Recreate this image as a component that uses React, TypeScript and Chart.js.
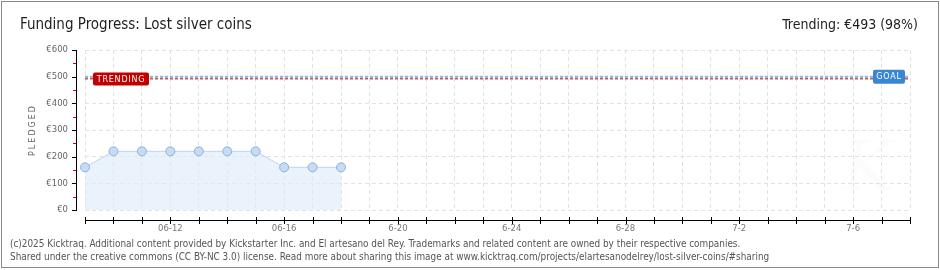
import React, { useEffect, useRef } from "react";
import { Chart, registerables } from "chart.js";

Chart.register(...registerables);

const categories = [
  "06-09", "06-10", "06-11", "06-12", "06-13", "06-14", "06-15", "06-16", "06-17", "06-18", "06-19",
  "6-20", "6-21", "6-22", "6-23", "6-24", "6-25", "6-26", "6-27", "6-28", "6-29", "6-30",
  "7-1", "7-2", "7-3", "7-4", "7-5", "7-6", "7-7", "7-8",
];
const labeledTicks = ["06-12", "06-16", "6-20", "6-24", "6-28", "7-2", "7-6"];
const pledged = [160, 220, 220, 220, 220, 220, 220, 160, 160, 160];
const goalValue = 500;
const trendingValue = 493;
const yTickValues = [0, 100, 200, 300, 400, 500, 600];

const titleText = "Funding Progress: Lost silver coins";
const trendText = "Trending: €493 (98%)";
const footerLines = [
  "(c)2025 Kicktraq. Additional content provided by Kickstarter Inc. and El artesano del Rey. Trademarks and related content are owned by their respective companies.",
  "Shared under the creative commons (CC BY-NC 3.0) license. Read more about sharing this image at www.kicktraq.com/projects/elartesanodelrey/lost-silver-coins/#sharing",
];

const decorPlugin = {
  id: "decor",
  beforeDraw(chart: any) {
    const ctx = chart.ctx;
    ctx.save();
    ctx.fillStyle = "#ffffff";
    ctx.fillRect(0, 0, chart.width, chart.height);
    ctx.strokeStyle = "#8a8a8a";
    ctx.lineWidth = 1;
    ctx.strokeRect(1.5, 1.5, chart.width - 3, chart.height - 4);
    // faint watermark
    ctx.fillStyle = "rgba(0,0,0,0.012)";
    ctx.font = "italic 70px 'DejaVu Serif'";
    ctx.textAlign = "center";
    ctx.textBaseline = "middle";
    ctx.fillText("K", 868, 172);
    ctx.restore();
  },
  afterDraw(chart: any) {
    const ctx = chart.ctx;
    const x = chart.scales.x;
    const y = chart.scales.y;
    const area = chart.chartArea;
    ctx.save();
    // title
    ctx.fillStyle = "#1e1e1e";
    ctx.font = "15px 'DejaVu Sans Condensed', 'DejaVu Sans'";
    ctx.textBaseline = "alphabetic";
    ctx.textAlign = "left";
    ctx.fillText(titleText, 20, 29);
    ctx.textAlign = "right";
    ctx.font = "14px 'DejaVu Sans Condensed', 'DejaVu Sans'";
    ctx.fillText(trendText, 918, 29);
    // footer
    ctx.textAlign = "left";
    ctx.fillStyle = "#555555";
    ctx.font = "9.9px 'DejaVu Sans Condensed', 'DejaVu Sans'";
    ctx.fillText(footerLines[0], 10, 247);
    ctx.fillText(footerLines[1], 10, 260);
    // y axis line
    const axX = 76.5;
    ctx.strokeStyle = "#000000";
    ctx.lineWidth = 1;
    ctx.beginPath();
    ctx.moveTo(axX, area.top);
    ctx.lineTo(axX, area.bottom + 1);
    ctx.stroke();
    yTickValues.forEach((v) => {
      const py = Math.round(y.getPixelForValue(v)) + 0.5;
      ctx.strokeStyle = "#000000";
      ctx.beginPath();
      ctx.moveTo(72, py);
      ctx.lineTo(77, py);
      ctx.stroke();
      if (v < 600) {
        const pm = Math.round(y.getPixelForValue(v + 50)) + 0.5;
        ctx.strokeStyle = "#e00000";
        ctx.beginPath();
        ctx.moveTo(73, pm);
        ctx.lineTo(76, pm);
        ctx.stroke();
      }
    });
    // y title
    ctx.save();
    ctx.translate(33, (area.top + area.bottom) / 2);
    ctx.rotate(-Math.PI / 2);
    ctx.fillStyle = "#666666";
    ctx.font = "8px 'DejaVu Sans'";
    ctx.textAlign = "center";
    ctx.textBaseline = "middle";
    (ctx as any).letterSpacing = "2px";
    ctx.fillText("PLEDGED", 0, 0);
    ctx.restore();
    // x axis line
    const axY = 220.5;
    ctx.strokeStyle = "#000000";
    ctx.beginPath();
    ctx.moveTo(area.left, axY);
    ctx.lineTo(area.right + 1, axY);
    ctx.stroke();
    categories.forEach((_, i) => {
      const px = Math.round(x.getPixelForValue(i)) + 0.5;
      ctx.beginPath();
      ctx.moveTo(px, 217);
      ctx.lineTo(px, 224);
      ctx.stroke();
    });
    ctx.restore();
  },
  afterDatasetsDraw(chart: any) {
    const ctx = chart.ctx;
    const y = chart.scales.y;
    const area = chart.chartArea;
    ctx.save();
    const box = (bx: number, cy: number, w: number, h: number, color: string, text: string) => {
      ctx.fillStyle = color;
      ctx.beginPath();
      (ctx as any).roundRect(bx, cy - h / 2, w, h, 2);
      ctx.fill();
      ctx.fillStyle = "#ffffff";
      ctx.font = "8px 'DejaVu Sans'";
      ctx.textAlign = "center";
      ctx.textBaseline = "middle";
      (ctx as any).letterSpacing = "0.8px";
      ctx.fillText(text, bx + w / 2, cy + 0.5);
    };
    box(area.left + 8, y.getPixelForValue(trendingValue) + 0.5, 56, 13, "#c20000", "TRENDING");
    box(area.right - 37, y.getPixelForValue(goalValue), 32, 14, "#3a86d4", "GOAL");
    ctx.restore();
  },
};

export default function App() {
  const ref = useRef<HTMLCanvasElement | null>(null);
  useEffect(() => {
    document.body.style.margin = "0";
    const canvas = ref.current!;
    const chart = new Chart(canvas, {
      type: "line",
      data: {
        labels: categories,
        datasets: [
          {
            label: "Goal",
            data: categories.map(() => goalValue),
            borderColor: "#94b8e0",
            borderWidth: 2,
            borderDash: [3, 2],
            pointRadius: 0,
            fill: false,
          },
          {
            label: "Trending",
            data: categories.map(() => trendingValue),
            borderColor: "#c85a5a",
            borderWidth: 2,
            borderDash: [3, 2],
            pointRadius: 0,
            fill: false,
          },
          {
            label: "Pledged",
            data: pledged,
            borderColor: "#bcd5f0",
            borderWidth: 1,
            backgroundColor: "rgba(222,235,250,0.65)",
            fill: "origin",
            pointRadius: 4.5,
            pointBackgroundColor: "#c6dcf4",
            pointBorderColor: "#8fb0d8",
            pointBorderWidth: 1,
            tension: 0,
          },
        ],
      },
      options: {
        responsive: false,
        animation: false,
        devicePixelRatio: 1,
        layout: { padding: { top: 50, right: 30, left: 0, bottom: 0 } },
        plugins: { legend: { display: false }, tooltip: { enabled: false }, title: { display: false } },
        scales: {
          x: {
            type: "category",
            offset: false,
            afterFit: (s: any) => { s.height = 60; },
            border: { display: false, dash: [4, 3] },
            grid: { color: "#e2e2e2", drawTicks: false, lineWidth: 1 },
            ticks: {
              autoSkip: false,
              maxRotation: 0,
              padding: 14,
              color: "#777777",
              font: { family: "'DejaVu Sans'", size: 8.5 },
              callback: (_v: any, i: number) => (labeledTicks.includes(categories[i]) ? categories[i] : ""),
            },
          },
          y: {
            min: 0,
            max: 600,
            afterFit: (s: any) => { s.width = 85; },
            afterBuildTicks: (s: any) => { s.ticks = yTickValues.map((v) => ({ value: v })); },
            border: { display: false, dash: [4, 3] },
            grid: { color: "#e2e2e2", drawTicks: false },
            ticks: {
              padding: 17,
              color: "#666666",
              font: { family: "'DejaVu Sans'", size: 8.5 },
              callback: (v: any) => "€" + v,
            },
          },
        },
      },
      plugins: [decorPlugin],
    } as any);
    return () => chart.destroy();
  }, []);
  return <canvas ref={ref} width={940} height={270} style={{ display: "block", width: 940, height: 270 }} />;
}
